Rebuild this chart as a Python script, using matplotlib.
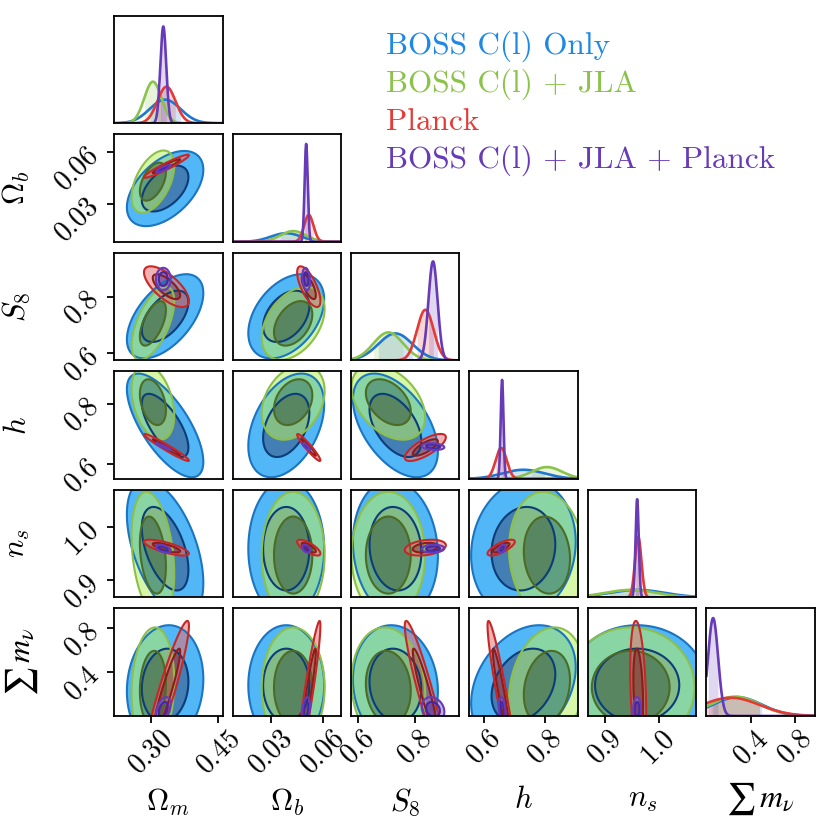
#!/usr/bin/env python3
"""
Corner plot: BOSS C(l) alone, + JLA, Planck and the full combination.
Each chain is summarised by means, widths and pairwise correlations
read off the original figure; contours are the 68% / 95% regions.
"""

import numpy as np
import matplotlib
matplotlib.use('Agg')
import matplotlib.pyplot as plt

plt.rcParams['mathtext.fontset'] = 'cm'
plt.rcParams['font.family'] = ['cmr10', 'DejaVu Serif']
plt.rcParams['axes.formatter.use_mathtext'] = True

# ---- parameters / axes ----
labels = [r'$\Omega_m$', r'$\Omega_b$', r'$S_8$', r'$h$', r'$n_s$', r'$\sum\, m_\nu$']
ranges = [(0.219, 0.459), (0.008, 0.0706), (0.574, 0.955),
          (0.551, 0.907), (0.868, 1.071), (0.0, 0.98)]
ticks = [[0.30, 0.45], [0.03, 0.06], [0.6, 0.8], [0.6, 0.8], [0.9, 1.0], [0.4, 0.8]]
tick_labels = [['0.30', '0.45'], ['0.03', '0.06'], ['0.6', '0.8'],
               ['0.6', '0.8'], ['0.9', '1.0'], ['0.4', '0.8']]

names = ['BOSS C(l) Only', 'BOSS C(l) + JLA', 'Planck', 'BOSS C(l) + JLA + Planck']
name_colors = ['#1E88E5', '#8BC34A', '#E53935', '#673AB7']

# ---- chain summaries (Om, Ob, S8, h, ns, mnu) ----
# correlations in pair order (0,1)(0,2)(0,3)(0,4)(0,5)(1,2)(1,3)(1,4)(1,5)(2,3)(2,4)(2,5)(3,4)(3,5)(4,5)
boss_mean = [0.332, 0.039, 0.730, 0.728, 0.960, 0.28]
boss_sigma = [0.034, 0.0088, 0.060, 0.069, 0.052, 0.22]
boss_corr = [0.5, 0.55, -0.7, -0.5, 0.1, 0.4, 0.4, 0.0, 0.0, -0.5, -0.1, -0.1, 0.1, 0.3, 0.0]
boss_peak = [0.22, 0.08, 0.25, 0.085, 0.07, 0.175]

jla_mean = [0.305, 0.043, 0.705, 0.805, 0.948, 0.26]
jla_sigma = [0.019, 0.0073, 0.052, 0.050, 0.048, 0.22]
jla_corr = [0.5, 0.6, -0.35, -0.3, 0.1, 0.4, 0.3, 0.0, 0.0, -0.4, 0.0, -0.1, -0.1, 0.2, 0.0]
jla_peak = [0.387, 0.10, 0.26, 0.11, 0.07, 0.18]

planck_mean = [0.335, 0.052, 0.835, 0.655, 0.962, 0.22]
planck_sigma = [0.020, 0.0027, 0.029, 0.018, 0.006, 0.26]
planck_corr = [0.95, -0.7, -0.97, -0.75, 0.93, -0.7, -0.95, -0.75, 0.93,
               0.75, 0.3, -0.93, 0.75, -0.93, -0.3]
planck_peak = [0.34, 0.25, 0.47, 0.287, 0.565, 0.17]

all_mean = [0.328, 0.0505, 0.862, 0.658, 0.960, 0.06]
all_sigma = [0.0065, 0.0009, 0.016, 0.0045, 0.003, 0.045]
all_corr = [0.85, 0.0, -0.95, -0.5, 0.4, -0.2, -0.85, -0.4, 0.3,
            -0.2, 0.1, -0.2, 0.4, -0.3, 0.0]
all_peak = [0.90, 0.91, 0.92, 0.92, 0.913, 0.91]

# styles: (outer fill, inner fill, outer line, inner line, fill alpha, 1d line)
styles = [
    ('#3eb0f7', '#2e70ad', '#1b75c2', '#0c3d78', 0.9, '#1E78D0'),
    ('#b8f060', '#698e1d', '#8dbf4a', '#4d6b25', 0.55, '#8BC34A'),
    ('#e57373', '#b03030', '#c62828', '#8e1b1b', 0.55, '#E53935'),
    ('#9575cd', '#5e35b1', '#673ab7', '#4527a0', 0.55, '#673AB7'),
]

LEVELS = [0.6827, 0.9545]


def corr_matrix(c):
    m = np.eye(6)
    k = 0
    for i in range(6):
        for j in range(i + 1, 6):
            m[i, j] = m[j, i] = c[k]
            k += 1
    return m


def main():
    chains = [
        (boss_mean, boss_sigma, corr_matrix(boss_corr), boss_peak),
        (jla_mean, jla_sigma, corr_matrix(jla_corr), jla_peak),
        (planck_mean, planck_sigma, corr_matrix(planck_corr), planck_peak),
        (all_mean, all_sigma, corr_matrix(all_corr), all_peak),
    ]
    r2 = [-2 * np.log(1 - p) for p in LEVELS]   # Mahalanobis radii^2

    fig, axes = plt.subplots(6, 6, figsize=(8.31, 8.31), dpi=100,
                             gridspec_kw=dict(left=0.1372, right=0.9807,
                                              top=0.9811, bottom=0.1384,
                                              wspace=0.092, hspace=0.102))
    for i in range(6):
        for j in range(6):
            ax = axes[i, j]
            if j > i:
                ax.axis('off')
                continue
            xr = ranges[j]
            if i == j:
                # 1D marginals
                x = np.linspace(xr[0], xr[1], 500)
                for (mu, sg, _, pk), st in zip(chains, styles):
                    z = (x - mu[i]) / sg[i]
                    y = pk[i] * np.exp(-0.5 * z ** 2)
                    ax.fill_between(x, 0, y, where=np.abs(z) < 1,
                                    color=st[5], alpha=0.2, lw=0)
                    ax.plot(x, y, color=st[5], lw=1.9)
                ax.set_ylim(0, 1.0)
            else:
                yr = ranges[i]
                x = np.linspace(xr[0], xr[1], 300)
                y = np.linspace(yr[0], yr[1], 300)
                X, Y = np.meshgrid(x, y)
                for (mu, sg, cm, _), st in zip(chains, styles):
                    rho = cm[i, j]
                    dx = (X - mu[j]) / sg[j]
                    dy = (Y - mu[i]) / sg[i]
                    d2 = (dx ** 2 - 2 * rho * dx * dy + dy ** 2) / (1 - rho ** 2)
                    ax.contourf(X, Y, d2, levels=[0, r2[0], r2[1]],
                                colors=[st[1], st[0]], alpha=st[4])
                    ax.contour(X, Y, d2, levels=r2, colors=[st[3], st[2]],
                               linewidths=1.5)
                ax.set_ylim(*yr)
            ax.set_xlim(*xr)
            for sp in ax.spines.values():
                sp.set_linewidth(1.3)

            # ticks only on the outer edges
            if i == 5:
                ax.set_xticks(ticks[j])
                ax.set_xticklabels(['$%s$' % t for t in tick_labels[j]],
                                   rotation=45)
                if j == 5:
                    # stix keeps the sum sign sitting on the baseline
                    ax.set_xlabel(labels[j], fontsize=23, math_fontfamily='stix')
                    ax.xaxis.set_label_coords(0.5, -0.6)
                else:
                    ax.set_xlabel(labels[j], fontsize=22)
                    ax.xaxis.set_label_coords(0.5, -0.66)
            else:
                ax.set_xticks([])
            if j == 0 and i > 0:
                ax.set_yticks(ticks[i])
                ax.set_yticklabels(['$%s$' % t for t in tick_labels[i]],
                                   rotation=45)
                if i == 5:
                    ax.set_ylabel(labels[i], fontsize=23, math_fontfamily='stix')
                    ax.yaxis.set_label_coords(-0.68, 0.5)
                else:
                    ax.set_ylabel(labels[i], fontsize=22)
                    ax.yaxis.set_label_coords(-0.76, 0.5)
            else:
                ax.set_yticks([])
            ax.tick_params(direction='out', length=5, width=1.3,
                           labelsize=20, pad=2)

    # legend as coloured text
    for k, (nm, c) in enumerate(zip(names, name_colors)):
        fig.text(386 / 831, 1 - (46.7 + 37.8 * k) / 831, nm, color=c,
                 fontsize=22.5, ha='left', va='center')

    plt.savefig('out.png', dpi=100)


if __name__ == '__main__':
    main()
